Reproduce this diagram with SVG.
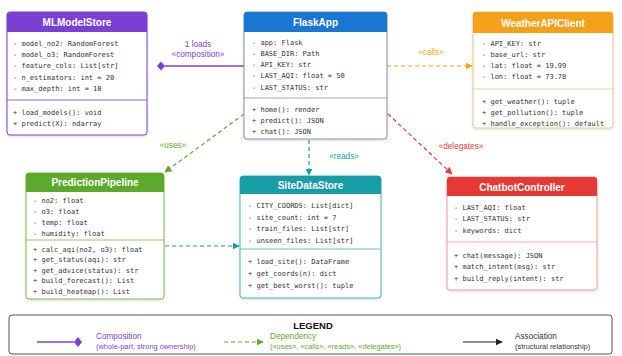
<svg xmlns="http://www.w3.org/2000/svg" width="622" height="356" viewBox="0 0 622 356">
  <style>
    .box { fill: #ffffff; stroke-width: 1; }
    .title { font-family: "Liberation Sans", Arial, sans-serif; font-weight: bold; font-size: 10px; fill: #ffffff; text-anchor: middle; }
    .mem { font-family: "DejaVu Sans Mono", "Liberation Mono", monospace; font-size: 7px; fill: #333333; }
    .div { stroke-width: 0.8; }
    .lbl { font-family: "Liberation Sans", Arial, sans-serif; font-size: 8.2px; text-anchor: middle; }
    .dash { fill: none; stroke-width: 1.2; stroke-dasharray: 4 3; }
    .leg { font-family: "Liberation Sans", Arial, sans-serif; font-size: 8.2px; }
    .legs { font-family: "Liberation Sans", Arial, sans-serif; font-size: 7.4px; }
  </style>
  <defs>
    <filter id="sh" x="-10%" y="-10%" width="120%" height="120%">
      <feDropShadow dx="0" dy="1" stdDeviation="1" flood-color="#000" flood-opacity="0.15"/>
    </filter>
    <marker id="arOrange" viewBox="0 0 10 10" refX="9" refY="5" markerWidth="6" markerHeight="6" orient="auto">
      <path d="M0,0 L10,5 L0,10 Z" fill="#F2A516"/>
    </marker>
    <marker id="arGreen" viewBox="0 0 10 10" refX="9" refY="5" markerWidth="6" markerHeight="6" orient="auto">
      <path d="M0,0 L10,5 L0,10 Z" fill="#5DA92C"/>
    </marker>
    <marker id="arTeal" viewBox="0 0 10 10" refX="9" refY="5" markerWidth="6" markerHeight="6" orient="auto">
      <path d="M0,0 L10,5 L0,10 Z" fill="#169DA6"/>
    </marker>
    <marker id="arRed" viewBox="0 0 10 10" refX="9" refY="5" markerWidth="6" markerHeight="6" orient="auto">
      <path d="M0,0 L10,5 L0,10 Z" fill="#E53935"/>
    </marker>
    <marker id="arBlack" viewBox="0 0 10 10" refX="9" refY="5" markerWidth="6" markerHeight="6" orient="auto">
      <path d="M0,0 L10,5 L0,10 Z" fill="#222222"/>
    </marker>
  </defs>

  <rect width="622" height="356" fill="#ffffff"/>

  <!-- connectors -->
  <g id="connectors">
    <!-- FlaskApp composes MLModelStore -->
    <line x1="244" y1="66" x2="165" y2="66" stroke="#7B3FD4" stroke-width="1.4"/>
    <path d="M157,66 L161,61.5 L165,66 L161,70.5 Z" fill="#7B3FD4"/>
    <text class="lbl" x="198" y="47" fill="#7B3FD4">1 loads</text>
    <text class="lbl" x="198" y="57" fill="#7B3FD4">«composition»</text>

    <!-- FlaskApp calls WeatherAPIClient -->
    <line class="dash" x1="387" y1="66" x2="472" y2="66" stroke="#F2A516" marker-end="url(#arOrange)"/>
    <text class="lbl" x="431" y="55" fill="#F2A516">«calls»</text>

    <!-- FlaskApp uses PredictionPipeline -->
    <line class="dash" x1="244" y1="114" x2="165" y2="172" stroke="#5DA92C" marker-end="url(#arGreen)"/>
    <text class="lbl" x="173" y="148" fill="#5DA92C">«uses»</text>

    <!-- FlaskApp reads SiteDataStore -->
    <line class="dash" x1="309" y1="140" x2="309" y2="175" stroke="#169DA6" marker-end="url(#arTeal)"/>
    <text class="lbl" x="344" y="159" fill="#169DA6">«reads»</text>

    <!-- FlaskApp delegates to ChatbotController -->
    <line class="dash" x1="388" y1="114" x2="452" y2="174" stroke="#E53935" marker-end="url(#arRed)"/>
    <text class="lbl" x="461" y="149" fill="#E53935">«delegates»</text>

    <!-- PredictionPipeline to SiteDataStore -->
    <line class="dash" x1="165" y1="246" x2="239" y2="246" stroke="#169DA6" marker-end="url(#arTeal)"/>
  </g>

  <!-- MLModelStore -->
  <g id="MLModelStore">
    <rect class="box" x="7" y="12" width="140" height="123" rx="3" stroke="#7B3FD4" filter="url(#sh)"/>
    <path d="M7,32 L7,15 Q7,12 10,12 L144,12 Q147,12 147,15 L147,32 Z" fill="#7B3FD4"/>
    <text class="title" x="77" y="26">MLModelStore</text>
    <text class="mem" x="13" y="46">-  model_no2: RandomForest</text>
    <text class="mem" x="13" y="57">-  model_o3: RandomForest</text>
    <text class="mem" x="13" y="68">-  feature_cols: List[str]</text>
    <text class="mem" x="13" y="79.5">-  n_estimators: int = 20</text>
    <text class="mem" x="13" y="91">-  max_depth: int = 10</text>
    <line class="div" x1="7" y1="100" x2="147" y2="100" stroke="#7B3FD4"/>
    <text class="mem" x="13" y="114.5">+  load_models(): void</text>
    <text class="mem" x="13" y="125.5">+  predict(X): ndarray</text>
  </g>

  <!-- FlaskApp -->
  <g id="FlaskApp">
    <rect class="box" x="244" y="12" width="143" height="127" rx="3" stroke="#7F93AE" filter="url(#sh)"/>
    <path d="M244,32 L244,15 Q244,12 247,12 L384,12 Q387,12 387,15 L387,32 Z" fill="#1976D2"/>
    <text class="title" x="315.5" y="26">FlaskApp</text>
    <text class="mem" x="252" y="44.5">-  app: Flask</text>
    <text class="mem" x="252" y="55.5">-  BASE_DIR: Path</text>
    <text class="mem" x="252" y="66.5">-  API_KEY: str</text>
    <text class="mem" x="252" y="78">-  LAST_AQI: float = 50</text>
    <text class="mem" x="252" y="89.5">-  LAST_STATUS: str</text>
    <line class="div" x1="244" y1="98" x2="387" y2="98" stroke="#7F93AE"/>
    <text class="mem" x="252" y="111.5">+  home(): render</text>
    <text class="mem" x="252" y="122.5">+  predict(): JSON</text>
    <text class="mem" x="252" y="133.5">+  chat(): JSON</text>
  </g>

  <!-- WeatherAPIClient -->
  <g id="WeatherAPIClient">
    <rect class="box" x="473" y="12" width="140" height="116" rx="3" stroke="#E2C98F" filter="url(#sh)"/>
    <path d="M473,33 L473,15 Q473,12 476,12 L610,12 Q613,12 613,15 L613,33 Z" fill="#F5A01A"/>
    <text class="title" x="543" y="26.5">WeatherAPIClient</text>
    <text class="mem" x="482" y="45.5">-  API_KEY: str</text>
    <text class="mem" x="482" y="56.5">-  base_url: str</text>
    <text class="mem" x="482" y="67.5">-  lat: float = 19.99</text>
    <text class="mem" x="482" y="79">-  lon: float = 73.78</text>
    <line class="div" x1="473" y1="89" x2="613" y2="89" stroke="#E2C98F"/>
    <text class="mem" x="482" y="103.5">+  get_weather(): tuple</text>
    <text class="mem" x="482" y="114.5">+  get_pollution(): tuple</text>
    <text class="mem" x="482" y="125.5">+  handle_exception(): default</text>
  </g>

  <!-- PredictionPipeline -->
  <g id="PredictionPipeline">
    <rect class="box" x="26" y="173" width="138" height="126" rx="3" stroke="#7DB84A" filter="url(#sh)"/>
    <path d="M26,192 L26,176 Q26,173 29,173 L161,173 Q164,173 164,176 L164,192 Z" fill="#5DA92C"/>
    <text class="title" x="95" y="186">PredictionPipeline</text>
    <text class="mem" x="33" y="202.5">-  no2: float</text>
    <text class="mem" x="33" y="213.5">-  o3: float</text>
    <text class="mem" x="33" y="224.5">-  temp: float</text>
    <text class="mem" x="33" y="235.5">-  humidity: float</text>
    <line class="div" x1="26" y1="240" x2="164" y2="240" stroke="#7DB84A"/>
    <text class="mem" x="33" y="251.5">+  calc_aqi(no2, o3): float</text>
    <text class="mem" x="33" y="262">+  get_status(aqi): str</text>
    <text class="mem" x="33" y="272.5">+  get_advice(status): str</text>
    <text class="mem" x="33" y="283">+  build_forecast(): List</text>
    <text class="mem" x="33" y="293.5">+  build_heatmap(): List</text>
  </g>

  <!-- SiteDataStore -->
  <g id="SiteDataStore">
    <rect class="box" x="240" y="176" width="141" height="122" rx="3" stroke="#4DB3BA" filter="url(#sh)"/>
    <path d="M240,194 L240,179 Q240,176 243,176 L378,176 Q381,176 381,179 L381,194 Z" fill="#169DA6"/>
    <text class="title" x="310.5" y="189">SiteDataStore</text>
    <text class="mem" x="248" y="207.5">-  CITY_COORDS: List[dict]</text>
    <text class="mem" x="248" y="219.5">-  site_count: int = 7</text>
    <text class="mem" x="248" y="231">-  train_files: List[str]</text>
    <text class="mem" x="248" y="243">-  unseen_files: List[str]</text>
    <line class="div" x1="240" y1="249" x2="381" y2="249" stroke="#4DB3BA"/>
    <text class="mem" x="248" y="263.5">+  load_site(): DataFrame</text>
    <text class="mem" x="248" y="275.5">+  get_coords(n): dict</text>
    <text class="mem" x="248" y="287.5">+  get_best_worst(): tuple</text>
  </g>

  <!-- ChatbotController -->
  <g id="ChatbotController">
    <rect class="box" x="447" y="177" width="150" height="113" rx="3" stroke="#EF9A9A" filter="url(#sh)"/>
    <path d="M447,196 L447,180 Q447,177 450,177 L594,177 Q597,177 597,180 L597,196 Z" fill="#E53935"/>
    <text class="title" x="522" y="190.5">ChatbotController</text>
    <text class="mem" x="454" y="209.5">-  LAST_AQI: float</text>
    <text class="mem" x="454" y="221">-  LAST_STATUS: str</text>
    <text class="mem" x="454" y="233">-  keywords: dict</text>
    <line class="div" x1="447" y1="242" x2="597" y2="242" stroke="#EF9A9A"/>
    <text class="mem" x="454" y="257.5">+  chat(message): JSON</text>
    <text class="mem" x="454" y="268.5">+  match_intent(msg): str</text>
    <text class="mem" x="454" y="280.5">+  build_reply(intent): str</text>
  </g>

  <!-- legend -->
  <g id="legend">
    <rect x="9" y="315" width="603" height="39" rx="3" fill="#ffffff" stroke="#555555" stroke-width="1"/>
    <text x="313" y="329" font-family="Liberation Sans, Arial, sans-serif" font-weight="bold" font-size="9.5" fill="#111111" text-anchor="middle">LEGEND</text>

    <line x1="37" y1="342" x2="74" y2="342" stroke="#7B3FD4" stroke-width="1.4"/>
    <path d="M74,342 L78,337 L82,342 L78,347 Z" fill="#7B3FD4"/>
    <text class="leg" x="96" y="339" fill="#7B3FD4">Composition</text>
    <text class="legs" x="96" y="349" fill="#7B3FD4">(whole-part, strong ownership)</text>

    <line class="dash" x1="224" y1="342" x2="263" y2="342" stroke="#5DA92C" stroke-dasharray="3 2" marker-end="url(#arGreen)"/>
    <text class="leg" x="270" y="339" fill="#5DA92C">Dependency</text>
    <text class="legs" x="270" y="349" fill="#5DA92C">(«uses», «calls», «reads», «delegates»)</text>

    <line x1="463" y1="342" x2="502" y2="342" stroke="#222222" stroke-width="1.2" marker-end="url(#arBlack)"/>
    <text class="leg" x="515" y="339" fill="#333333">Association</text>
    <text class="legs" x="515" y="349" fill="#333333">(structural relationship)</text>
  </g>
</svg>
